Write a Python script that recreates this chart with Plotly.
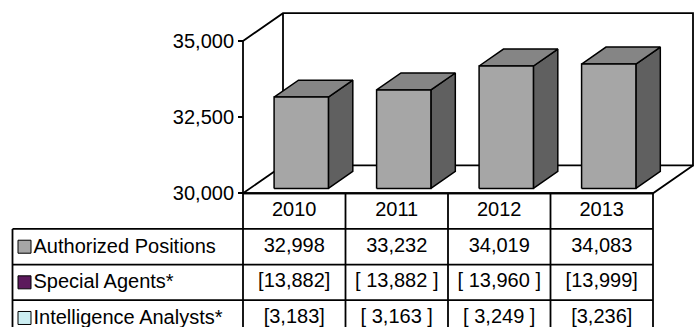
import plotly.graph_objects as go

# ---------------- data ----------------
years = ["2010", "2011", "2012", "2013"]
authorized = [32998, 33232, 34019, 34083]
special_agents = [13882, 13882, 13960, 13999]
intel_analysts = [3183, 3163, 3249, 3236]
bracket_pad = ["", " ", " ", ""]          # spacing inside brackets as printed
row_labels = ["Authorized Positions", "Special Agents*", "Intelligence Analysts*"]
row_colors = ["#A6A6A6", "#5C1A5C", "#CCEEF2"]
y_ticks = [30000, 32500, 35000]
Y_MIN, Y_MAX = 30000, 35000

# ---------------- layout constants (pixels) ----------------
W, H = 697, 335
X0 = 243.0            # front-left corner of category axis
CAT_W = 102.5         # pixels per category
Y_FLOOR = 198.0       # pixel of Y_MIN on front plane
Y_TOPPX = 42.0        # pixel of Y_MAX on front plane
DEPTH_PX = (40.0, 28.5)
TABLE_LEFT = 12.5
ROW_H = 36.5
PAD = 3.0
FONT = dict(family="Arial, Liberation Sans, sans-serif", size=20, color="black")

upp = (Y_MAX - Y_MIN) / (Y_FLOOR - Y_TOPPX)   # value units per pixel
DX = DEPTH_PX[0] / CAT_W
DY = DEPTH_PX[1] * upp
n = len(years)
BAR_W = 0.53
F0, F1 = 0.175, 0.785

def py(px):
    return 1 - px / H

def pxx(px):
    return px / W

fig = go.Figure()
LW = 1.8

# ---------------- 3D frame ----------------
fx, fy = [], []
def seg(pts):
    for p in pts:
        fx.append(p[0]); fy.append(p[1])
    fx.append(None); fy.append(None)

seg([(0, Y_MAX), (DX, Y_MAX + DY), (n + DX, Y_MAX + DY), (n + DX, Y_MIN + DY),
     (DX, Y_MIN + DY), (DX, Y_MAX + DY)])
seg([(DX, Y_MIN + DY), (0, Y_MIN), (n, Y_MIN), (n + DX, Y_MIN + DY)])
seg([(0, Y_MIN), (0, Y_MAX)])
fig.add_trace(go.Scatter(x=fx, y=fy, mode="lines", line=dict(color="black", width=LW),
                         hoverinfo="skip", showlegend=False))

# ---------------- bars ----------------
front_x, front_y, top_x, top_y, side_x, side_y = [], [], [], [], [], []
d = F1 - F0
for i, v in enumerate(authorized):
    c = i + 0.5
    x0 = c - BAR_W / 2 + F0 * DX
    x1 = c + BAR_W / 2 + F0 * DX
    yb = Y_MIN + F0 * DY
    yt = v + F0 * DY
    ox, oy = d * DX, d * DY
    front_x += [x0, x1, x1, x0, x0, None]
    front_y += [yb, yb, yt, yt, yb, None]
    top_x += [x0, x1, x1 + ox, x0 + ox, x0, None]
    top_y += [yt, yt, yt + oy, yt + oy, yt, None]
    side_x += [x1, x1 + ox, x1 + ox, x1, x1, None]
    side_y += [yb, yb + oy, yt + oy, yt, yb, None]

for xs, ys, col in [(side_x, side_y, "#606060"), (top_x, top_y, "#858585"),
                    (front_x, front_y, "#A6A6A6")]:
    fig.add_trace(go.Scatter(x=xs, y=ys, mode="lines", fill="toself", fillcolor=col,
                             line=dict(color="black", width=1.5), hoverinfo="skip",
                             showlegend=False))

# ---------------- data table ----------------
LABEL_W = (X0 - TABLE_LEFT) / CAT_W
n_rows = len(row_labels)
tx, ty = [], []
def tseg(a, b):
    tx.extend([a[0], b[0], None]); ty.extend([a[1], b[1], None])

tseg((0, 0), (n, 0))
for r in range(1, n_rows + 2):
    tseg((-LABEL_W, r), (n, r))
for cidx in range(n + 1):
    tseg((cidx, 0), (cidx, n_rows + 1))
tseg((-LABEL_W, 1), (-LABEL_W, n_rows + 1))
fig.add_trace(go.Scatter(x=tx, y=ty, xaxis="x2", yaxis="y2", mode="lines",
                         line=dict(color="black", width=LW), hoverinfo="skip",
                         showlegend=False))

# header
fig.add_trace(go.Scatter(x=[i + 0.5 for i in range(n)], y=[0.5] * n, xaxis="x2", yaxis="y2",
                         mode="text", text=years, textfont=FONT, textposition="middle center",
                         hoverinfo="skip", showlegend=False))

def fmt_plain(v, pad):
    return f"{v:,}"

def fmt_br(v, pad):
    return f"[{pad}{v:,}{pad}]"

rows = [(authorized, fmt_plain), (special_agents, fmt_br), (intel_analysts, fmt_br)]
for r, (vals, f) in enumerate(rows):
    fig.add_trace(go.Scatter(x=[i + 0.5 for i in range(n)], y=[r + 1.5] * n,
                             xaxis="x2", yaxis="y2", mode="text",
                             text=[f(v, p) for v, p in zip(vals, bracket_pad)],
                             textfont=FONT, textposition="middle center",
                             hoverinfo="skip", showlegend=False))

# legend keys + row labels
key_x = -LABEL_W + 12 / CAT_W
fig.add_trace(go.Scatter(x=[key_x] * n_rows, y=[r + 1.5 for r in range(n_rows)],
                         xaxis="x2", yaxis="y2", mode="markers",
                         marker=dict(symbol="square", size=13, color=row_colors,
                                     line=dict(color="black", width=1)),
                         hoverinfo="skip", showlegend=False))
fig.add_trace(go.Scatter(x=[-LABEL_W + 21 / CAT_W] * n_rows, y=[r + 1.53 for r in range(n_rows)],
                         xaxis="x2", yaxis="y2", mode="text", text=row_labels,
                         textfont=FONT, textposition="middle right",
                         hoverinfo="skip", showlegend=False))

# ---------------- axes ----------------
x_left_px = X0 - PAD
x_right_px = W - 1
y_top_px = Y_TOPPX - DEPTH_PX[1] - PAD
y_bot_px = Y_FLOOR + PAD

fig.update_layout(
    width=W, height=H, margin=dict(l=0, r=0, t=0, b=0),
    paper_bgcolor="white", plot_bgcolor="rgba(0,0,0,0)",
    showlegend=False,
    xaxis=dict(domain=[pxx(x_left_px), pxx(x_right_px)],
               range=[-PAD / CAT_W, (x_right_px - X0) / CAT_W],
               visible=False, fixedrange=True),
    yaxis=dict(domain=[py(y_bot_px), py(y_top_px)],
               range=[Y_MIN - PAD * upp, Y_MAX + (Y_TOPPX - y_top_px) * upp],
               anchor="free", position=pxx(X0),
               tickvals=y_ticks, tickformat=",", ticks="outside", ticklen=5,
               tickwidth=1.5, tickcolor="black", showgrid=False, zeroline=False,
               showline=False, tickfont=FONT, fixedrange=True),
    xaxis2=dict(domain=[pxx(TABLE_LEFT - PAD), pxx(x_right_px)],
                range=[(TABLE_LEFT - PAD - X0) / CAT_W, (x_right_px - X0) / CAT_W],
                visible=False, anchor="y2", fixedrange=True),
    yaxis2=dict(domain=[0, py(Y_FLOOR - PAD)],
                range=[(H - Y_FLOOR) / ROW_H, -PAD / ROW_H],
                visible=False, anchor="x2", fixedrange=True),
)

fig.write_html("out.html")
